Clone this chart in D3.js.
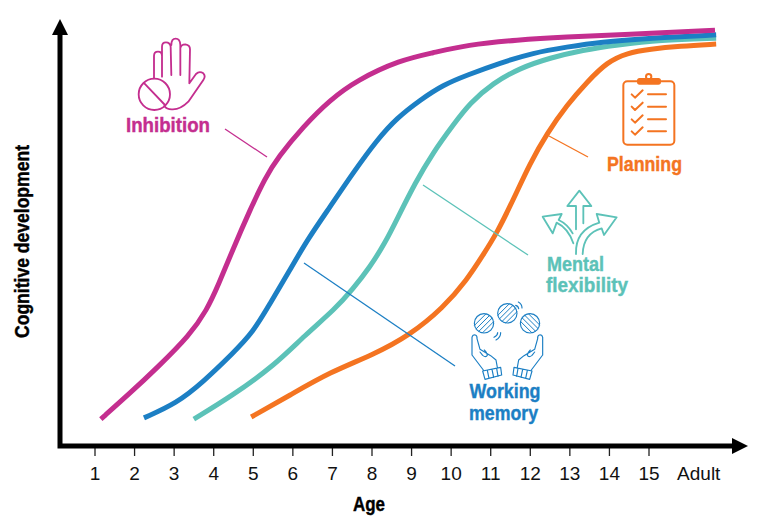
<!DOCTYPE html>
<html lang="en">
<head>
<meta charset="UTF-8" />
<title>Cognitive development</title>
<script src="https://cdnjs.cloudflare.com/ajax/libs/d3/7.8.5/d3.min.js"></script>
<style>
    body { margin: 0; background: #fff; }
    svg { display: block; }
    .tick text, .adult { font-family: 'Liberation Sans', Arial, sans-serif; font-size: 19px; fill: #111; }
    .name { font-family: 'Liberation Sans', sans-serif; font-weight: bold; text-anchor: middle; stroke-width: 0.4; }
    .icon * { fill: none; stroke-linecap: round; stroke-linejoin: round; }
</style>
</head>
<body>
<svg id="chart" width="765" height="531"></svg>
<script>
const ticks = [1, 2, 3, 4, 5, 6, 7, 8, 9, 10, 11, 12, 13, 14, 15];
const adultAge = 16.27;

const inhibitionAge = [1.16, 1.9, 2.58, 3.41, 3.84, 4.12, 4.5, 4.93, 5.31, 5.64, 6.27, 6.95, 7.63, 8.72, 9.55, 10.41, 11.68, 12.94, 14.2, 16.68];
const inhibitionDev = [6.4, 12.6, 18.6, 26.4, 32.4, 38.1, 46.9, 56.2, 63.8, 68.8, 76, 82.4, 87.1, 91.9, 93.6, 95.5, 96.7, 97.4, 97.9, 99];

const memoryAge = [2.25, 3.08, 3.74, 4.5, 5.01, 5.44, 5.94, 6.37, 6.95, 7.53, 8.14, 8.64, 9.23, 9.81, 10.41, 11.25, 12.08, 12.94, 13.78, 15.04, 16.71];
const memoryDev = [6.7, 10.2, 15.2, 22.1, 27.1, 34, 41.9, 49, 56.9, 65, 72.9, 78.1, 82.4, 86, 88.3, 91.2, 93.6, 95, 96.2, 97.1, 97.9];

const flexAge = [3.51, 4.5, 5.56, 6.32, 7.08, 7.53, 7.96, 8.34, 8.67, 9.1, 9.55, 10.06, 10.49, 11.07, 11.75, 12.51, 13.34, 14.2, 15.29, 16.71];
const flexDev = [6.4, 12.1, 19.3, 26.4, 32.6, 37.4, 42.6, 48.3, 54.5, 62.6, 69.8, 76.4, 81.7, 86.4, 90, 92.4, 94.3, 95.5, 96.7, 97.1];

const planAge = [4.96, 5.94, 6.95, 8.04, 8.97, 9.81, 10.41, 10.82, 11.17, 11.58, 12.01, 12.44, 12.94, 13.45, 13.95, 14.46, 15.04, 15.79, 16.71];
const planDev = [6.9, 12.1, 17.6, 21.7, 26.4, 32.9, 39.5, 45.5, 50.7, 58.6, 67.4, 74.5, 81.2, 86.7, 91.4, 93.6, 94.5, 95.2, 95.7];

const magenta = "#c42e8f", blue = "#1c7fc4", teal = "#5cc2b8", orange = "#f47421";

const svg = d3.select("#chart");
const x = d3.scaleLinear().domain([1, 15]).range([94.5, 648.5]);
const y = d3.scaleLinear().domain([0, 100]).range([446, 26]);

const line = d3.line().x(d => x(d[0])).y(d => y(d[1])).curve(d3.curveBasis);

[[planAge, planDev, orange], [flexAge, flexDev, teal], [memoryAge, memoryDev, blue], [inhibitionAge, inhibitionDev, magenta]]
    .forEach(([a, v, c]) => {
        svg.append("path")
            .attr("d", line(d3.zip(a, v)))
            .attr("fill", "none").attr("stroke", c).attr("stroke-width", 5);
    });

const leaders = [
    [225, 129, 267, 157, magenta],
    [549, 136, 588, 157, orange],
    [423, 185, 528, 255, teal],
    [304, 263, 455, 366, blue]
];
svg.selectAll("line.leader").data(leaders).join("line")
    .attr("class", "leader")
    .attr("x1", d => d[0]).attr("y1", d => d[1])
    .attr("x2", d => d[2]).attr("y2", d => d[3])
    .attr("stroke", d => d[4]).attr("stroke-width", 1.3);

// x axis, the thick line and arrows are added by hand
const axis = d3.axisBottom(x).tickValues(ticks).tickSize(12).tickFormat(d3.format("d"));
const gx = svg.append("g").attr("transform", "translate(0,444)").call(axis);
gx.select(".domain").remove();
gx.selectAll(".tick line").attr("stroke", "#222").attr("stroke-width", 1.3);
gx.selectAll(".tick text").attr("dy", null).attr("y", 36);
svg.append("text").attr("class", "adult").attr("x", x(adultAge)).attr("y", 480)
    .attr("text-anchor", "middle")
    .text("Adult");

svg.append("path").attr("d", "M60,446H734M60,448.5V34").attr("fill", "none").attr("stroke", "#000").attr("stroke-width", 5);
svg.append("path").attr("d", "M732,438L748,446L732,454Z").attr("fill", "#000");
svg.append("path").attr("d", "M52,35L60,19L68,35Z").attr("fill", "#000");

// the original font is a condensed bold, so squeeze to the measured width
function label(txt, cx, cy, size, width, color) {
    return svg.append("text").attr("class", "name").attr("x", cx).attr("y", cy)
        .attr("font-size", size).attr("fill", color).attr("stroke", color)
        .attr("textLength", width).attr("lengthAdjust", "spacingAndGlyphs")
        .text(txt);
}
label("Inhibition", 168, 132, 20, 84, magenta);
label("Planning", 644.5, 171, 20, 75, orange);
label("Mental", 575.5, 271, 20, 57, teal);
label("flexibility", 587, 292, 20, 82, teal);
label("Working", 505, 398, 20, 71, blue);
label("memory", 503.5, 420, 20, 69, blue);
label("Age", 369, 511, 20, 32, "#000");
label("Cognitive development", 0, 0, 20, 193, "#000")
    .attr("transform", "translate(29,241.5) rotate(-90)");

// icons, drawn in 3x coordinates
function icon(tx, ty, color) {
    return svg.append("g").attr("class", "icon")
        .attr("transform", `translate(${tx},${ty}) scale(${1 / 3})`)
        .attr("stroke", color).attr("stroke-width", 5.5);
}
const hand = icon(110, 30, magenta);
hand.append("path").attr("d", "M132,145V78Q132,65 144,65Q156,65 156,78V140M156,78V50Q156,37 168,37Q180,37 182,50L184,135M184,45Q184,26 197,26Q210,26 211,45V135M211,55Q213,43 226,43Q240,45 240,58L238,160L258,132Q268,122 280,130Q288,138 280,150L235,215Q210,240 185,238Q170,238 163,228");
hand.append("circle").attr("cx", 133).attr("cy", 193).attr("r", 47);
hand.append("path").attr("d", "M103,160L165,225");

const arrows = icon(530, 180, teal);
arrows.append("path").attr("d", "M138,148V78H112L148,32L184,78H160V130");
arrows.append("path").attr("d", "M130,190Q115,145 80,128L68,160L38,110L95,102L86,120Q112,132 128,160");
arrows.append("path").attr("d", "M138,222Q135,150 208,128L200,102L260,112L222,165L215,145Q160,160 158,222");

const juggle = icon(450, 290, blue).attr("stroke-width", 3.5);
const balls = [[102, 100, 1], [172, 70, 1], [240, 100, -1]];
balls.forEach(([cx, cy, dir]) => {
    juggle.append("circle").attr("cx", cx).attr("cy", cy).attr("r", 29);
    [-16, -5, 6, 17].forEach(o => {
        // chord of the ball, offset o from the centre
        const h = Math.sqrt(29 * 29 - o * o) * Math.SQRT1_2, m = o * Math.SQRT1_2;
        juggle.append("line")
            .attr("x1", cx + m - h).attr("y1", cy + dir * (m + h))
            .attr("x2", cx + m + h).attr("y2", cy + dir * (m - h))
            .attr("stroke-width", 3);
    });
});
juggle.append("path").attr("d", "M205,36Q216,42 216,54M197,46Q205,48 206,56M152,128Q152,142 138,150M143,128Q143,136 132,142");
const handPath = "M66,195L66,142Q68,133 76,135Q82,137 81,146L90,178L122,197L138,210L142,232M66,195L100,240M103,180Q112,188 112,196Q108,204 98,196L90,186";
const cuff = "M98,243L152,232L155,255L105,268ZM112,241L117,265M126,238L131,262M140,235L144,259";
juggle.append("path").attr("d", handPath + cuff);
juggle.append("g").attr("transform", "translate(344,0) scale(-1,1)").append("path").attr("d", handPath + cuff);

const clip = icon(590, 60, orange).attr("stroke-width", 6);
clip.append("rect").attr("x", 100).attr("y", 64).attr("width", 153).attr("height", 190).attr("rx", 12);
clip.append("rect").attr("x", 144).attr("y", 57).attr("width", 66).attr("height", 14).attr("rx", 5).attr("style", "fill:" + orange);
clip.append("circle").attr("cx", 176).attr("cy", 50).attr("r", 8);
[103, 140, 178, 214].forEach(cy => {
    clip.append("path").attr("d", `M125,${cy}L135,${cy + 10}L158,${cy - 12}M174,${cy}H228`);
});
</script>
</body>
</html>
